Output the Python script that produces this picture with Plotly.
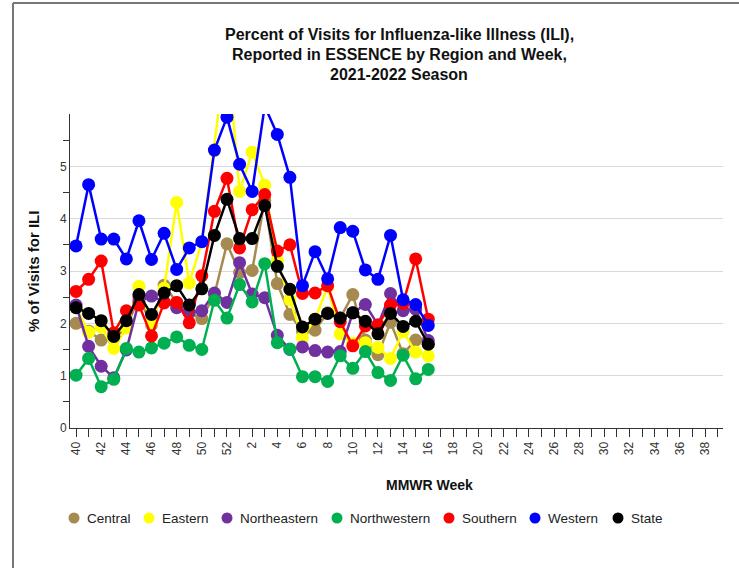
import plotly.graph_objects as go

weeks = [str(w) for w in list(range(40, 53)) + list(range(1, 40))]

central = [2.00, 1.85, 1.68, 1.70, 1.92, 2.50, 1.97, 2.73, 2.40, 2.20, 2.09, 2.55, 3.52, 2.97, 3.01,
           4.35, 2.76, 2.17, 1.85, 1.87, 2.20, 2.10, 2.55, 1.68, 1.40, 2.02, 1.42, 1.68, 1.60]
eastern = [2.30, 1.83, 1.93, 1.52, 1.91, 2.71, 2.01, 2.67, 4.31, 2.77, 3.56, 5.30, 7.30, 4.52, 5.27,
           4.64, 3.20, 2.45, 1.73, 2.08, 2.70, 1.80, 1.62, 1.63, 1.54, 1.33, 1.84, 1.45, 1.38]
northeastern = [2.35, 1.56, 1.18, 0.96, 1.49, 2.42, 2.52, 2.41, 2.30, 2.21, 2.24, 2.58, 2.40, 3.16, 2.56,
                2.49, 1.77, 1.50, 1.55, 1.48, 1.45, 1.46, 2.20, 2.36, 1.97, 2.57, 2.24, 2.27, 1.67]
northwestern = [1.01, 1.33, 0.79, 0.93, 1.52, 1.45, 1.53, 1.62, 1.74, 1.58, 1.50, 2.44, 2.10, 2.74, 2.41,
                3.14, 1.63, 1.51, 0.98, 0.98, 0.89, 1.38, 1.14, 1.46, 1.06, 0.91, 1.39, 0.94, 1.12]
southern = [2.61, 2.84, 3.19, 1.82, 2.24, 2.35, 1.76, 2.39, 2.40, 2.01, 2.91, 4.14, 4.77, 3.44, 4.17,
            4.46, 3.38, 3.50, 2.57, 2.58, 2.72, 2.03, 1.57, 1.95, 1.97, 2.35, 2.38, 3.23, 2.08]
western = [3.48, 4.65, 3.61, 3.61, 3.23, 3.96, 3.22, 3.72, 3.03, 3.44, 3.56, 5.31, 5.94, 5.04, 4.52,
           6.15, 5.61, 4.79, 2.72, 3.37, 2.85, 3.83, 3.76, 3.02, 2.84, 3.68, 2.45, 2.36, 1.96]
state = [2.30, 2.19, 2.05, 1.75, 2.05, 2.55, 2.17, 2.58, 2.72, 2.35, 2.66, 3.68, 4.37, 3.62, 3.62,
         4.25, 3.09, 2.65, 1.93, 2.08, 2.19, 2.10, 2.20, 2.04, 1.80, 2.19, 1.94, 2.04, 1.60]

series_names = ["Central", "Eastern", "Northeastern", "Northwestern", "Southern", "Western", "State"]
series_values = [central, eastern, northeastern, northwestern, southern, western, state]
colors = ["#A68A50", "#FFFF00", "#7030A0", "#00B050", "#FF0000", "#0000FF", "#000000"]

y_tick_vals = [0, 1, 2, 3, 4, 5]
title_lines = ["Percent of Visits for Influenza-like Illness (ILI),",
               "Reported in ESSENCE by Region and Week,",
               "2021-2022 Season"]

FONT = "Liberation Sans, Arial, sans-serif"
W, H = 739, 568
L, R, T, B = 70, 16, 114, 140
PW, PH = W - L - R, H - T - B


def px(x):
    return (x - L) / PW


def py(y):
    return (H - B - y) / PH


fig = go.Figure()
for name, vals, col in zip(series_names, series_values, colors):
    fig.add_trace(go.Scatter(
        x=weeks[:len(vals)], y=vals, name=name, mode="lines+markers",
        line=dict(color=col, width=2.5),
        marker=dict(color=col, size=13),
        showlegend=False,
    ))

# manual legend (matches reference spacing)
legend_marker_px = [74, 149, 227, 337, 449, 535, 618]
shapes = []
annotations = []
for name, col, mx in zip(series_names, colors, legend_marker_px):
    shapes.append(dict(type="circle", xref="paper", yref="paper",
                       xsizemode="pixel", ysizemode="pixel",
                       xanchor=px(mx), yanchor=py(518),
                       x0=-5.5, x1=5.5, y0=-5.5, y1=5.5,
                       fillcolor=col, line=dict(width=0)))
    annotations.append(dict(text=name, xref="paper", yref="paper",
                            x=px(mx + 11), y=py(518), xanchor="left", yanchor="middle",
                            showarrow=False, font=dict(family=FONT, size=13.5, color="#222")))

# outer frame
shapes.append(dict(type="line", xref="paper", yref="paper", x0=px(13), x1=px(13),
                   y0=py(3), y1=py(600), line=dict(color="#777", width=2)))
shapes.append(dict(type="line", xref="paper", yref="paper", x0=px(13), x1=px(760),
                   y0=py(3), y1=py(3), line=dict(color="#777", width=2)))

annotations.append(dict(text="<b>% of Visits for ILI</b>", xref="paper", yref="paper",
                        x=px(33), y=py(272), textangle=-90, showarrow=False,
                        xanchor="center", yanchor="middle",
                        font=dict(family=FONT, size=15, color="#111")))
annotations.append(dict(text="<b>MMWR Week</b>", xref="paper", yref="paper",
                        x=px(429), y=py(485), showarrow=False,
                        xanchor="center", yanchor="middle",
                        font=dict(family=FONT, size=14, color="#111")))
for line_text, ly in zip(title_lines, [35, 55, 74]):
    annotations.append(dict(text="<b>" + line_text + "</b>",
                            xref="paper", yref="paper", x=px(399), y=py(ly),
                            xanchor="center", yanchor="middle", showarrow=False,
                            font=dict(family=FONT, size=16, color="#111")))

fig.update_layout(
    width=W, height=H,
    margin=dict(l=L, r=R, t=T, b=B),
    paper_bgcolor="white", plot_bgcolor="white",
    font=dict(family=FONT, size=12, color="#333"),
    shapes=shapes, annotations=annotations,
    showlegend=False,
)
fig.update_xaxes(
    type="category", categoryorder="array", categoryarray=weeks,
    range=[-0.48, 51.43],
    tickmode="array", tickvals=weeks,
    ticktext=[w if i % 2 == 0 else "" for i, w in enumerate(weeks)],
    tickangle=-90, ticks="outside", ticklen=8, tickcolor="#333",
    showline=True, linecolor="#333", linewidth=1,
    showgrid=False, zeroline=False,
    tickfont=dict(family=FONT, size=12, color="#333"),
)
fig.update_yaxes(
    range=[0, 6], tickmode="array", tickvals=y_tick_vals,
    ticks="", showline=True, linecolor="#333", linewidth=1,
    showgrid=True, gridcolor="#d9d9d9", gridwidth=1, zeroline=False,
    minor=dict(tickvals=[0.5, 1.5, 2.5, 3.5, 4.5, 5.5], ticks="outside", ticklen=6,
               tickcolor="#333", showgrid=False),
    tickfont=dict(family=FONT, size=12, color="#333"),
)

fig.write_html("out.html", config={"displayModeBar": False},
               post_script="document.body.style.margin='0';")
